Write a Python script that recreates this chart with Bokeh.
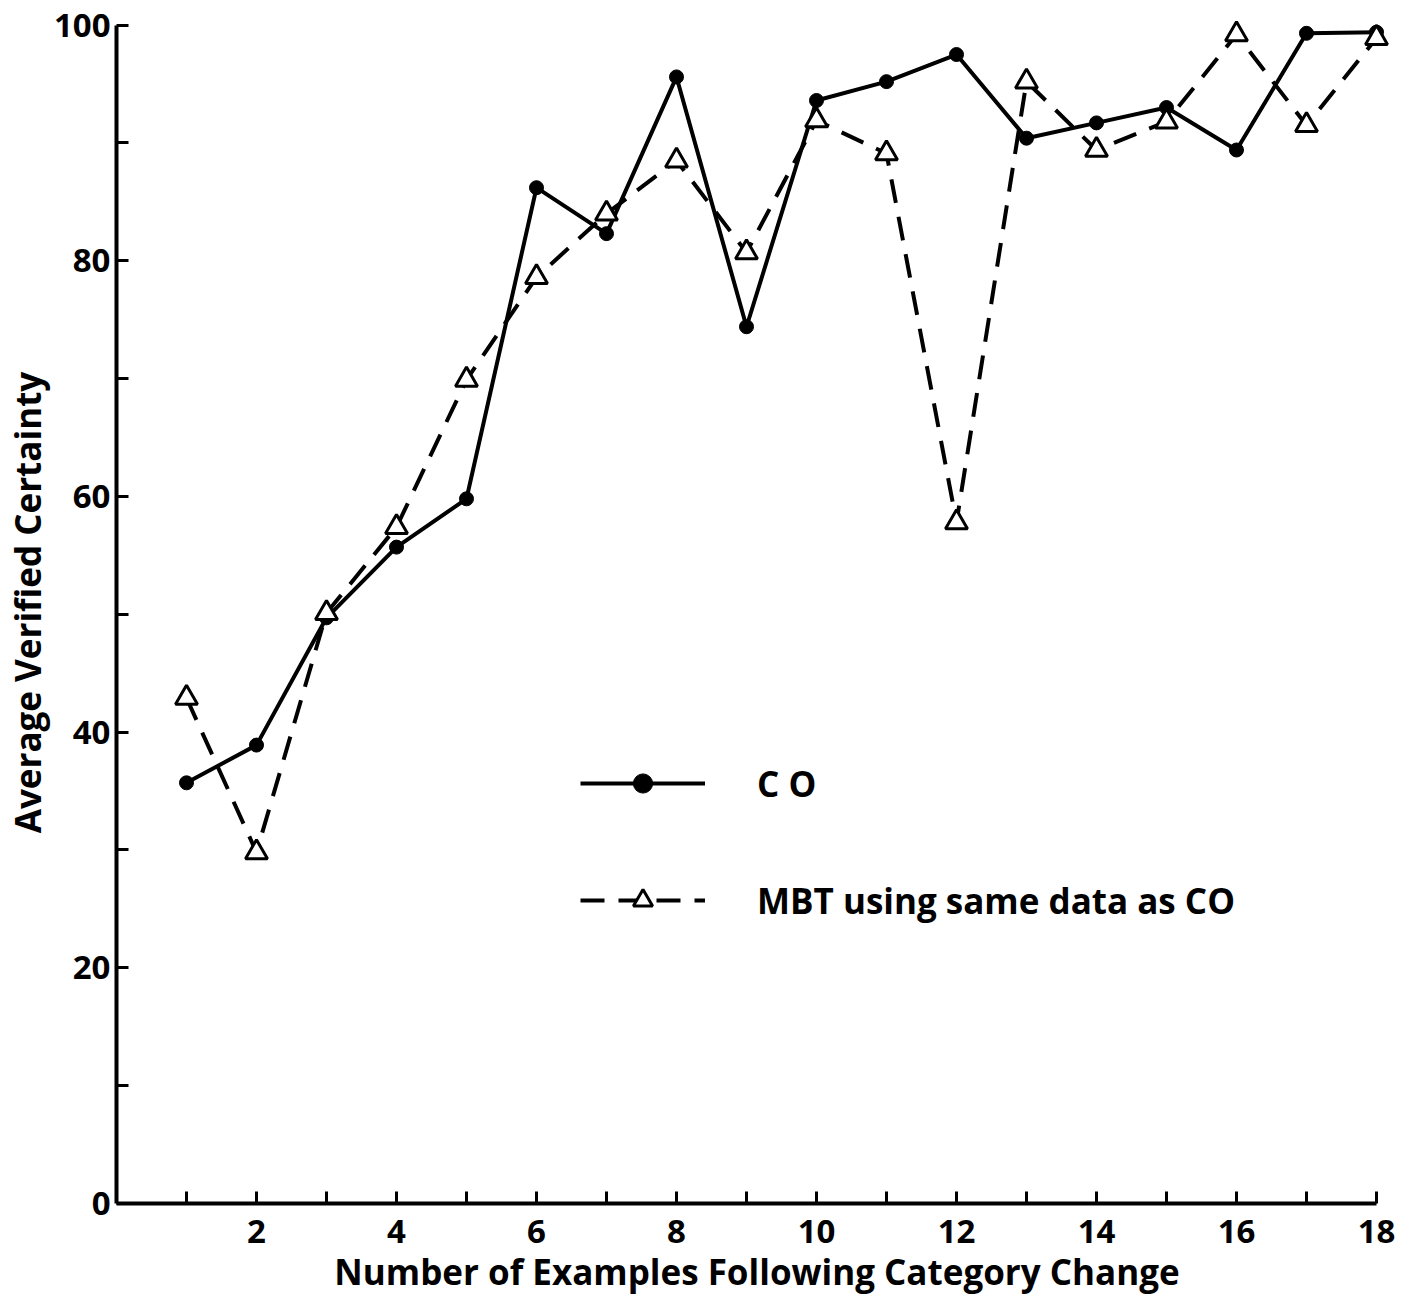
from bokeh.plotting import figure
from bokeh.models import Range1d, FixedTicker, Legend, LegendItem
from bokeh.embed import file_html
from bokeh.resources import INLINE

# ---- data ----
examples = [1, 2, 3, 4, 5, 6, 7, 8, 9, 10, 11, 12, 13, 14, 15, 16, 17, 18]
co_certainty = [35.7, 38.9, 49.7, 55.7, 59.8, 86.2, 82.3, 95.6, 74.4, 93.6,
                95.2, 97.5, 90.4, 91.7, 93.0, 89.4, 99.3, 99.4]
mbt_certainty = [42.9, 29.8, 50.1, 57.4, 69.9, 78.6, 84.0, 88.5, 80.7, 91.9,
                 89.1, 57.8, 95.2, 89.4, 91.8, 99.2, 91.5, 98.9]
x_ticks = list(range(1, 19))
x_tick_labels = {t: (str(t) if t % 2 == 0 else "") for t in x_ticks}
y_ticks = list(range(0, 101, 10))
y_tick_labels = {t: (str(t) if t % 20 == 0 else "") for t in y_ticks}
series_names = ["C O", "MBT using same data as CO"]
x_title = "Number of Examples Following Category Change"
y_title = "Average Verified Certainty"

FONT = "Open Sans"

p = figure(width=1406, height=1305, output_backend="svg", toolbar_location=None,
           x_range=Range1d(0, 18.3), y_range=Range1d(0, 102),
           min_border_left=116, min_border_right=9, min_border_top=1, min_border_bottom=102)
p.outline_line_color = None
p.grid.visible = False
p.background_fill_color = "white"
p.border_fill_color = "white"

for ax in (p.xaxis[0], p.yaxis[0]):
    ax.axis_line_width = 4
    ax.axis_line_color = "black"
    ax.major_tick_in = 12
    ax.major_tick_out = 0
    ax.major_tick_line_width = 3
    ax.minor_tick_line_color = None
    ax.major_label_text_font = FONT
    ax.major_label_text_font_style = "bold"
    ax.major_label_text_font_size = "33px"
    ax.major_label_text_color = "black"
    ax.axis_label_text_font = FONT
    ax.axis_label_text_font_style = "bold"
    ax.axis_label_text_font_size = "35px"
    ax.axis_label_text_color = "black"

p.xaxis.ticker = FixedTicker(ticks=x_ticks)
p.xaxis.major_label_overrides = {k: v for k, v in x_tick_labels.items()}
p.xaxis.bounds = (0, 18)
p.xaxis.major_label_standoff = 16
p.xaxis.axis_label = x_title
p.xaxis.axis_label_standoff = 2

p.yaxis.ticker = FixedTicker(ticks=y_ticks)
p.yaxis.major_label_overrides = {k: v for k, v in y_tick_labels.items()}
p.yaxis.bounds = (0, 100)
p.yaxis.major_label_standoff = 6
p.yaxis.axis_label = y_title
p.yaxis.axis_label_standoff = 0

co_line = p.line(examples, co_certainty, line_color="black", line_width=4)
co_pts = p.scatter(examples, co_certainty, marker="circle", size=14,
                   fill_color="black", line_color="black")
mbt_line = p.line(examples, mbt_certainty, line_color="black", line_width=4,
                  line_dash="24 14")
mbt_pts = p.scatter(examples, mbt_certainty, marker="triangle", size=22,
                    fill_color="white", line_color="black", line_width=3)

legend = Legend(items=[LegendItem(label=series_names[0], renderers=[co_line, co_pts]),
                       LegendItem(label=series_names[1], renderers=[mbt_line, mbt_pts])],
                location=(464, 279))
legend.glyph_width = 125
legend.glyph_height = 48
legend.label_height = 48
legend.spacing = 69
legend.label_standoff = 52
legend.padding = 0
legend.margin = 0
legend.border_line_color = None
legend.background_fill_alpha = 0
legend.label_text_font = FONT
legend.label_text_font_style = "bold"
legend.label_text_font_size = "35px"
legend.label_text_color = "black"
p.add_layout(legend, "center")

open("out.html", "w").write(file_html(p, INLINE))
